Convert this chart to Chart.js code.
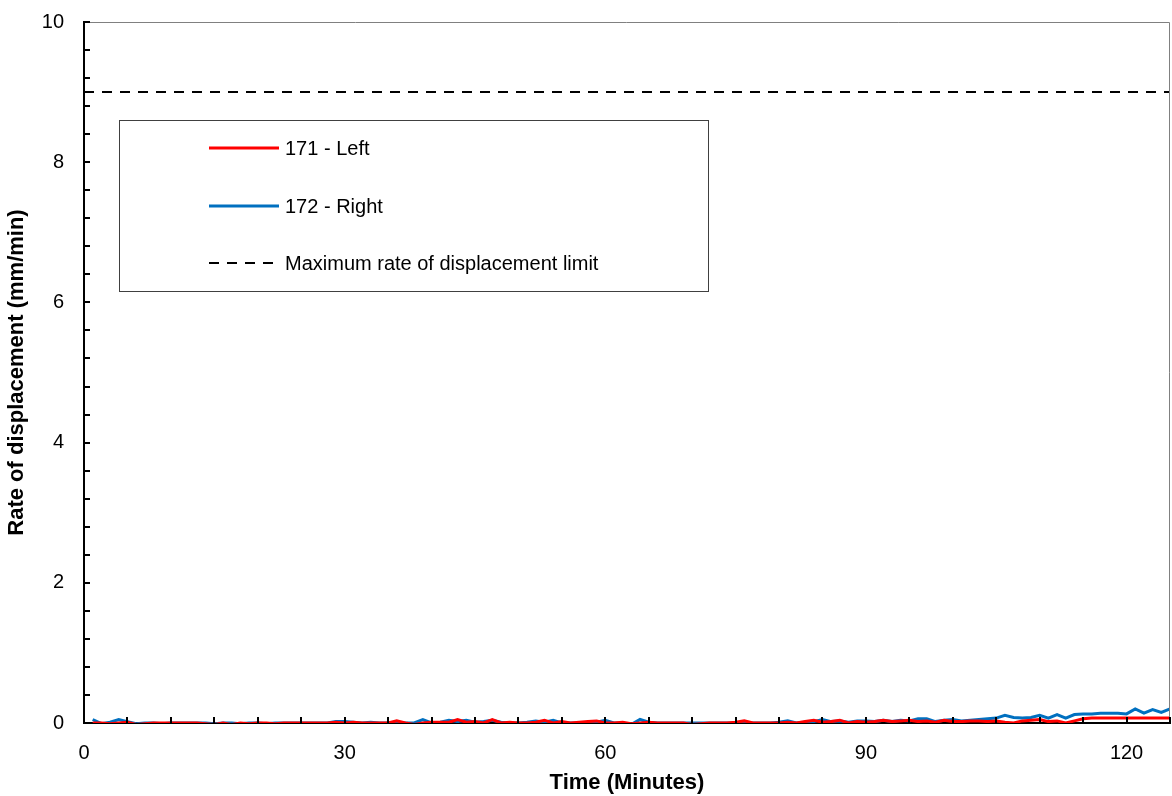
<!DOCTYPE html>
<html>
<head>
<meta charset="utf-8">
<script src="https://cdn.jsdelivr.net/npm/chart.js@4/dist/chart.umd.min.js"></script>
<style>
  html, body { margin: 0; padding: 0; background: #fff; }
  #wrap { width: 1172px; height: 796px; }
</style>
</head>
<body>
<div id="wrap"><canvas id="rateChart"></canvas></div>
<script>
// time in minutes
const timeMin = [1,2,3,4,5,6,7,8,9,10,11,12,13,14,15,16,17,18,19,20,21,22,23,24,25,26,27,28,29,30,
  31,32,33,34,35,36,37,38,39,40,41,42,43,44,45,46,47,48,49,50,51,52,53,54,55,56,57,58,59,60,
  61,62,63,64,65,66,67,68,69,70,71,72,73,74,75,76,77,78,79,80,81,82,83,84,85,86,87,88,89,90,
  91,92,93,94,95,96,97,98,99,100,101,102,103,104,105,106,107,108,109,110,111,112,113,114,115,
  116,117,118,119,120,121,122,123,124,125];

// 171 - Left (mm/min)
const left171 = [0,0,-0.01,0,0.01,-0.02,-0.01,0,0,0,
  0,0,0,-0.01,-0.02,0,-0.02,0,-0.01,0,
  0,-0.01,0,0,0,0,0,0,0.01,0,
  0.01,0,0,0,0,0.03,0,-0.02,0,0.01,
  0.01,0.01,0.05,0.01,0.02,0,0.05,0,0.01,0,
  0,0.01,0.04,0,0.02,0,0.01,0.02,0.03,0,
  0,0.01,-0.01,0,0.01,0,0,0,0,-0.02,
  -0.01,0,0,0,0.01,0.03,0,0,0,0,
  0.01,0,0.02,0.04,0.01,0.02,0.04,0,0.02,0.01,
  0.02,0.04,0.02,0.03,0.04,0.02,0.03,0.01,0.04,0.02,
  0.02,0.03,0.03,0.02,0.03,0.01,0,0.03,0.04,0.05,
  0.02,0.03,0,0.03,0.06,0.07,0.07,0.07,0.07,0.07,
  0.07,0.07,0.07,0.07,0.07];

// 172 - Right (mm/min)
const right172 = [0.05,-0.01,0.01,0.05,0.02,-0.01,0,0,-0.01,0,
  0,0,0,0,-0.01,0,0,-0.01,0,0,
  -0.01,0,0,0,0,0,0,0,0.02,0.02,
  0.01,0,0.01,0,0,0,0,0,0.05,0,
  0.01,0.04,0.02,0.04,0.01,0.02,0.04,0.01,0,0,
  0.01,0.03,0.01,0.04,0,0,0,0,0.01,0.04,
  0,0,-0.02,0.05,0.01,0,0,0,0,0,
  0,0,0,0,0,0,0,0,0,0.01,
  0.03,0,0.01,0.02,0.05,0.02,0.03,0.01,0.03,0.03,
  0.02,0.04,0.02,0.04,0.03,0.06,0.06,0.02,0.04,0.05,
  0.03,0.04,0.05,0.06,0.07,0.11,0.08,0.07,0.08,0.11,
  0.07,0.12,0.07,0.12,0.13,0.13,0.14,0.14,0.14,0.13,
  0.2,0.14,0.19,0.15,0.2];

// limit line
const limitTime = [0, 125];
const limitRate = [9, 9];

const xTicks = [0, 30, 60, 90, 120];
const yTicks = [0, 2, 4, 6, 8, 10];

const toPoints = (xs, ys) => xs.map((x, i) => ({ x: x, y: ys[i] }));

const FONT = "'Liberation Sans', Arial, sans-serif";

// inward tick marks + grey top/right frame
const frameTicks = {
  id: 'frameTicks',
  afterDatasetsDraw(chart) {
    const { ctx, chartArea: a, scales: { x, y } } = chart;
    ctx.save();
    ctx.strokeStyle = '#808080';
    ctx.lineWidth = 1;
    ctx.beginPath();
    ctx.moveTo(a.left, a.top + 0.5);
    ctx.lineTo(a.right - 0.5, a.top + 0.5);
    ctx.lineTo(a.right - 0.5, a.bottom);
    ctx.stroke();

    ctx.strokeStyle = '#000';
    ctx.lineWidth = 2;
    ctx.beginPath();
    for (let v = 0; v <= 125; v += 5) {
      const px = Math.round(x.getPixelForValue(v));
      ctx.moveTo(px, a.bottom);
      ctx.lineTo(px, a.bottom - 6);
    }
    for (let k = 0; k <= 25; k++) {
      const py = Math.round(y.getPixelForValue(k * 0.4));
      ctx.moveTo(a.left, py);
      ctx.lineTo(a.left + 6, py);
    }
    ctx.stroke();
    ctx.restore();
  }
};

// legend box drawn inside the plot
const boxLegend = {
  id: 'boxLegend',
  afterDraw(chart) {
    const ctx = chart.ctx;
    const bx = 119, by = 120, bw = 589, bh = 171;
    ctx.save();
    ctx.fillStyle = '#fff';
    ctx.fillRect(bx, by, bw, bh);
    ctx.strokeStyle = '#404040';
    ctx.lineWidth = 1;
    ctx.strokeRect(bx + 0.5, by + 0.5, bw, bh);
    const rows = [148, 206, 263];
    ctx.font = '20px ' + FONT;
    ctx.textBaseline = 'middle';
    chart.data.datasets.forEach((ds, i) => {
      ctx.strokeStyle = ds.borderColor;
      ctx.lineWidth = ds.borderWidth;
      ctx.setLineDash(ds.borderDash || []);
      ctx.beginPath();
      ctx.moveTo(209, rows[i]);
      ctx.lineTo(279, rows[i]);
      ctx.stroke();
      ctx.setLineDash([]);
      ctx.fillStyle = '#000';
      ctx.fillText(ds.label, 285, rows[i] + 1);
    });
    ctx.restore();
  }
};

new Chart(document.getElementById('rateChart'), {
  type: 'line',
  data: {
    datasets: [
      {
        label: '171 - Left',
        data: toPoints(timeMin, left171),
        borderColor: '#FF0000',
        borderWidth: 3,
        pointRadius: 0,
        tension: 0
      },
      {
        label: '172 - Right',
        data: toPoints(timeMin, right172),
        borderColor: '#0070C0',
        borderWidth: 3,
        pointRadius: 0,
        tension: 0
      },
      {
        label: 'Maximum rate of displacement limit',
        data: toPoints(limitTime, limitRate),
        borderColor: '#000000',
        borderWidth: 2,
        borderDash: [10, 8],
        pointRadius: 0
      }
    ]
  },
  options: {
    responsive: true,
    maintainAspectRatio: false,
    animation: false,
    layout: { padding: { top: 22, right: 2, left: 0, bottom: 0 } },
    plugins: {
      legend: { display: false },
      tooltip: { enabled: false }
    },
    scales: {
      x: {
        type: 'linear',
        min: 0,
        max: 125,
        afterFit(scale) { scale.height = 73; },
        afterBuildTicks(scale) { scale.ticks = xTicks.map(v => ({ value: v })); },
        grid: { display: false },
        border: { display: true, color: '#000', width: 2 },
        ticks: { color: '#000', font: { family: FONT, size: 20 }, padding: 10, maxRotation: 0, autoSkip: false },
        title: {
          display: true,
          text: 'Time (Minutes)',
          color: '#000',
          font: { family: FONT, size: 22, weight: 'bold' },
          padding: { top: 1, bottom: 0 }
        }
      },
      y: {
        min: 0,
        max: 10,
        afterFit(scale) { scale.width = 84; scale.paddingTop = 0; scale.paddingBottom = 0; },
        afterBuildTicks(scale) { scale.ticks = yTicks.map(v => ({ value: v })); },
        grid: { display: false },
        border: { display: true, color: '#000', width: 2 },
        ticks: { color: '#000', font: { family: FONT, size: 20 }, padding: 12, autoSkip: false },
        title: {
          display: true,
          text: 'Rate of displacement (mm/min)',
          color: '#000',
          font: { family: FONT, size: 22, weight: 'bold' },
          padding: { top: 4, bottom: 0 }
        }
      }
    }
  },
  plugins: [frameTicks, boxLegend]
});
</script>
</body>
</html>
